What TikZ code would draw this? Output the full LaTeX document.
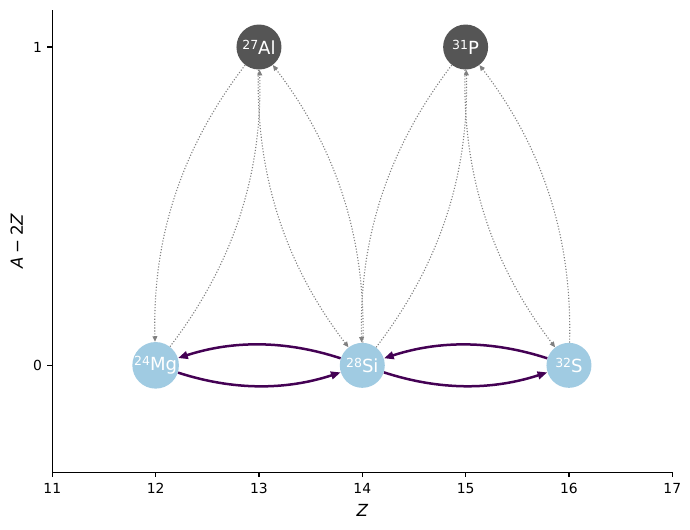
\documentclass[tikz,border=0pt]{standalone}
\usepackage{fontspec}
\setmainfont{DejaVu Sans}
\usetikzlibrary{arrows.meta}
\definecolor{nucblue}{HTML}{A0CBE2}
\definecolor{nucgrey}{HTML}{555555}
\definecolor{flowpurple}{HTML}{440154}
\newcommand{\iso}[2]{\raisebox{3.6pt}{\fontsize{9}{10}\selectfont #1}#2}
\begin{document}
\begin{tikzpicture}[x=74.4pt,y=229.2pt,
stable/.style={circle,fill=nucblue,minimum size=32.4pt,inner sep=0pt,text=white,font=\fontsize{13}{15}\selectfont},
unstable/.style={stable,fill=nucgrey},
decay/.style={draw=gray,line width=0.8pt,dash pattern=on 0.8pt off 1.3pt,-{Triangle[length=4pt,width=3.5pt]},bend right=19.5,looseness=0.917},
capture/.style={draw=flowpurple,line width=1.8pt,-{Triangle[length=7pt,width=5.5pt]},bend right=18,looseness=0.917},
spine/.style={line width=0.8pt},
ticklab/.style={inner sep=0pt,font=\fontsize{10}{12}\selectfont}]
\useasboundingbox (10.4939,-0.5143) rectangle (17.1715,1.1477);

% axes
\draw[spine] (11,1.1162) -- (11,-0.3362) -- (17,-0.3362);
\draw[spine] (11,-0.3362) -- ++(0pt,-3.5pt) node[ticklab,below=4pt] {11};
\draw[spine] (12,-0.3362) -- ++(0pt,-3.5pt) node[ticklab,below=4pt] {12};
\draw[spine] (13,-0.3362) -- ++(0pt,-3.5pt) node[ticklab,below=4pt] {13};
\draw[spine] (14,-0.3362) -- ++(0pt,-3.5pt) node[ticklab,below=4pt] {14};
\draw[spine] (15,-0.3362) -- ++(0pt,-3.5pt) node[ticklab,below=4pt] {15};
\draw[spine] (16,-0.3362) -- ++(0pt,-3.5pt) node[ticklab,below=4pt] {16};
\draw[spine] (17,-0.3362) -- ++(0pt,-3.5pt) node[ticklab,below=4pt] {17};
\draw[spine] (11,0) -- ++(-3.5pt,0pt) node[ticklab,left=3.5pt] {0};
\draw[spine] (11,1) -- ++(-3.5pt,0pt) node[ticklab,left=3.5pt] {1};
\node[font=\fontsize{12}{14}\selectfont] (zlab) at (14,-0.4546) {\itshape Z};
\node[font=\fontsize{12}{14}\selectfont,rotate=90] (alab) at (10.655,0.39) {{\itshape A}\hspace{0.22em}−\hspace{0.22em}2{\itshape Z}};

% nuclei
\node[stable] (mg24) at (12,0) {\iso{24}{Mg}};
\node[unstable] (al27) at (13,1) {\iso{27}{Al}};
\node[stable] (si28) at (14,0) {\iso{28}{Si}};
\node[unstable] (p31) at (15,1) {\iso{31}{P}};
\node[stable] (s32) at (16,0) {\iso{32}{S}};

% captures
\draw[capture] (mg24) to (si28);
\draw[capture] (si28) to (mg24);
\draw[capture] (si28) to (s32);
\draw[capture] (s32) to (si28);

% decays
\draw[decay] (al27) to (mg24);
\draw[decay] (mg24) to (al27);
\draw[decay] (al27) to (si28);
\draw[decay] (si28) to (al27);
\draw[decay] (p31) to (si28);
\draw[decay] (si28) to (p31);
\draw[decay] (p31) to (s32);
\draw[decay] (s32) to (p31);
\end{tikzpicture}
\end{document}
